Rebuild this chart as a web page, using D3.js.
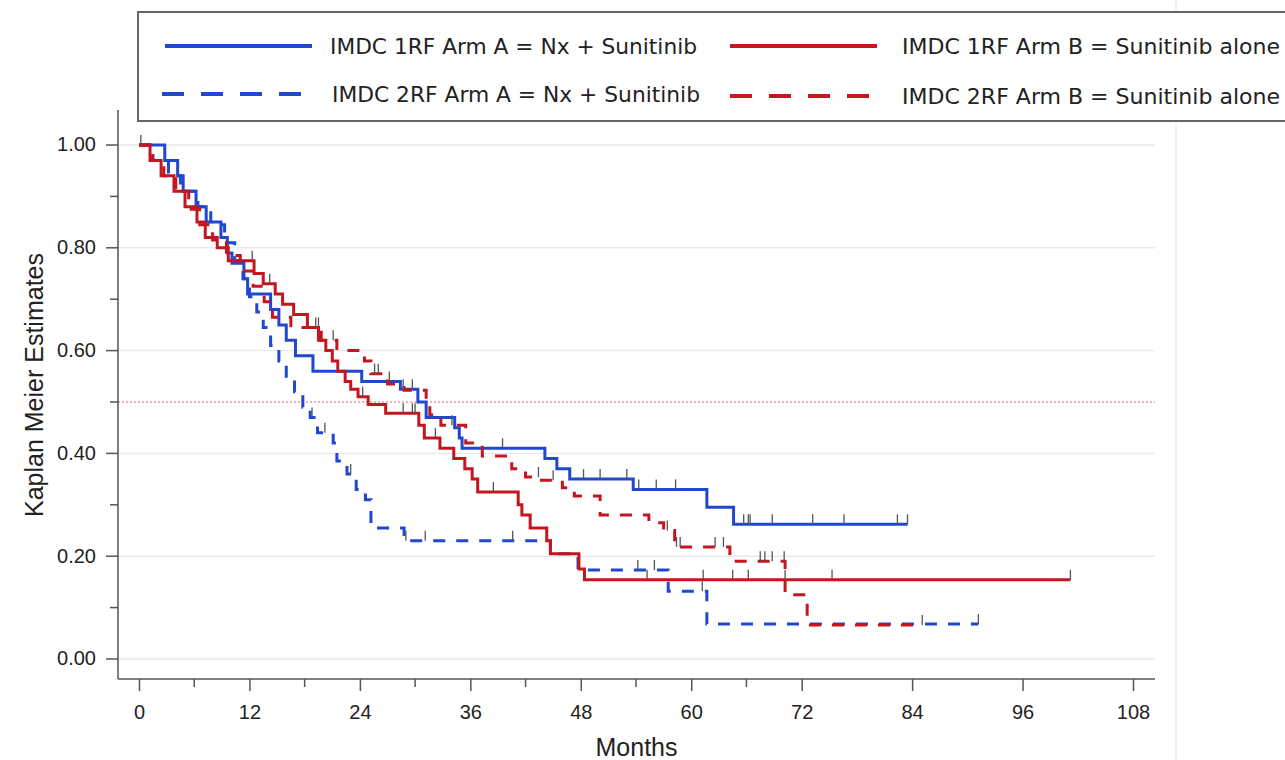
<!DOCTYPE html>
<html>
<head>
<meta charset="utf-8">
<script src="https://cdn.jsdelivr.net/npm/d3@7"></script>
<style>
  body { margin: 0; background: #fff; }
  svg { display: block; }
</style>
</head>
<body>
<svg id="chart"></svg>
<script>
// step points [month, survival] for each arm / risk group
const rf1ArmA = [[0,1],[2.8,0.97],[4.2,0.94],[4.8,0.91],[6.2,0.88],[7.3,0.85],[8.9,0.82],[9.6,0.79],[10.1,0.77],[11.4,0.74],[11.8,0.71],[14.3,0.68],[15.2,0.65],[16.0,0.62],[17.0,0.59],[18.9,0.56],[24.2,0.54],[28.4,0.525],[30.3,0.50],[31.2,0.47],[34.3,0.45],[34.8,0.43],[35.1,0.41],[44.1,0.39],[45.4,0.37],[46.8,0.35],[53.7,0.33],[61.7,0.295],[64.6,0.262]];
const rf1ArmAEnd = 83.5;
const rf1ArmACens = [0.2, 27.2, 28.7, 29.7, 39.5, 48.3, 50.1, 53.0, 54.3, 56.2, 58.3, 65.7, 66.2, 66.4, 68.8, 73.2, 76.6, 82.4, 83.5];

const rf2ArmA = [[0,1],[1.5,0.97],[3.2,0.94],[4.5,0.91],[6.4,0.88],[7.8,0.845],[9.3,0.81],[10.4,0.775],[11.3,0.74],[12.0,0.705],[12.8,0.675],[13.5,0.645],[14.3,0.61],[15.2,0.58],[16.0,0.55],[16.9,0.52],[17.8,0.49],[18.6,0.47],[19.4,0.44],[21.1,0.42],[21.5,0.385],[22.6,0.36],[23.6,0.33],[24.6,0.31],[25.2,0.255],[28.8,0.23],[44.7,0.205],[47.7,0.173],[57.5,0.132],[61.7,0.068]];
const rf2ArmAEnd = 91.2;
const rf2ArmACens = [18.8, 20.2, 23.0, 29.0, 31.1, 40.6, 54.2, 56.0, 61.2, 91.2];

const rf1ArmB = [[0,1],[1.2,0.97],[2.4,0.94],[3.8,0.91],[5.0,0.88],[6.3,0.85],[7.2,0.82],[8.5,0.80],[9.7,0.775],[12.5,0.75],[13.5,0.73],[14.8,0.71],[15.6,0.69],[16.8,0.67],[18.3,0.645],[19.5,0.62],[20.3,0.60],[21.0,0.58],[21.6,0.56],[22.4,0.54],[23.0,0.525],[23.8,0.51],[24.9,0.495],[26.8,0.478],[30.4,0.455],[31.0,0.43],[32.7,0.41],[34.2,0.39],[35.4,0.37],[36.2,0.35],[36.8,0.325],[41.2,0.30],[41.6,0.28],[42.5,0.255],[44.3,0.23],[44.7,0.205],[47.8,0.175],[48.4,0.154]];
const rf1ArmBEnd = 101.2;
const rf1ArmBCens = [12.3, 14.2, 24.3, 28.7, 29.7, 30.0, 32.2, 38.5, 55.2, 61.3, 64.5, 66.2, 70.2, 75.3, 101.2];

const rf2ArmB = [[0,1],[1.5,0.97],[2.7,0.94],[4.0,0.91],[5.4,0.875],[6.6,0.845],[8.0,0.815],[9.5,0.785],[11.0,0.755],[12.4,0.725],[13.6,0.695],[14.5,0.665],[16.5,0.645],[19.8,0.62],[21.5,0.60],[24.5,0.58],[25.2,0.555],[27.0,0.535],[28.8,0.523],[31.2,0.50],[31.6,0.475],[32.8,0.455],[35.5,0.42],[37.3,0.395],[40.5,0.37],[42.0,0.354],[43.5,0.348],[46.0,0.333],[47.3,0.317],[50.1,0.28],[55.4,0.265],[57.0,0.25],[58.2,0.218],[64.2,0.19],[70.2,0.125],[72.6,0.066]];
const rf2ArmBEnd = 85.1;
const rf2ArmBCens = [19.2, 19.5, 21.1, 25.6, 26.0, 34.0, 43.4, 45.0, 57.4, 58.4, 58.8, 62.6, 63.5, 67.5, 68.0, 68.8, 70.1, 85.1];

const xTicks = [0, 12, 24, 36, 48, 60, 72, 84, 96, 108];
const xMinorTicks = [6, 18, 30, 42, 54, 66];
const yTicks = [0, 0.2, 0.4, 0.6, 0.8, 1.0];
const yMinorTicks = [0.1, 0.3, 0.5, 0.7, 0.9];
const legendLabels = ['IMDC 1RF Arm A = Nx + Sunitinib', 'IMDC 1RF Arm B = Sunitinib alone',
                      'IMDC 2RF Arm A = Nx + Sunitinib', 'IMDC 2RF Arm B = Sunitinib alone'];

const width = 1285;
const height = 760;
const blue = '#1f47cf';
const red = '#c4161f';

const svg = d3.select('#chart').attr('width', width).attr('height', height);

const x = d3.scaleLinear().domain([0, 108]).range([139, 1133]);
const y = d3.scaleLinear().domain([0, 1]).range([659, 145]);

const axisLeft = 118;
const axisBottom = 679;
const plotRight = 1155;

// faint image edge at the right
svg.append('line')
    .attr('x1', 1176).attr('x2', 1176).attr('y1', 0).attr('y2', height)
    .attr('stroke', '#ececec').attr('stroke-width', 1.5);

// grid
svg.selectAll('.grid')
    .data(yTicks)
    .enter()
    .append('line')
    .attr('class', 'grid')
    .attr('x1', axisLeft).attr('x2', plotRight)
    .attr('y1', d => y(d)).attr('y2', d => y(d))
    .attr('stroke', '#e9e9e9').attr('stroke-width', 1.5);

// median reference line
svg.append('line')
    .attr('x1', axisLeft).attr('x2', plotRight)
    .attr('y1', y(0.5)).attr('y2', y(0.5))
    .attr('stroke', '#e0606a').attr('stroke-width', 1)
    .attr('stroke-dasharray', '2,2');

// axes
const xAxis = d3.axisBottom(x).tickValues(xTicks).tickSize(12).tickPadding(14);
const gx = svg.append('g').attr('transform', `translate(0,${axisBottom})`).call(xAxis);
gx.select('.domain').attr('d', `M${axisLeft},0H${plotRight}`);
gx.selectAll('.domain, .tick line').attr('stroke', '#555').attr('stroke-width', 1.5);
gx.selectAll('text').attr('font-family', 'Liberation Sans, Arial, sans-serif').attr('font-size', 20).attr('fill', '#222');

gx.selectAll('.minor')
    .data(xMinorTicks)
    .enter()
    .append('line')
    .attr('class', 'minor')
    .attr('x1', d => x(d)).attr('x2', d => x(d))
    .attr('y1', 0).attr('y2', 8)
    .attr('stroke', '#555').attr('stroke-width', 1.5);

const yAxis = d3.axisLeft(y).tickValues(yTicks).tickFormat(d3.format('.2f')).tickSize(12).tickPadding(10);
const gy = svg.append('g').attr('transform', `translate(${axisLeft},0)`).call(yAxis);
gy.selectAll('.tick').attr('transform', d => `translate(0,${y(d)})`);
gy.select('.domain').attr('d', `M0,110V${axisBottom - 0}`);
gy.selectAll('.domain, .tick line').attr('stroke', '#555').attr('stroke-width', 1.5);
gy.selectAll('text').attr('font-family', 'Liberation Sans, Arial, sans-serif').attr('font-size', 20).attr('fill', '#222');

gy.selectAll('.minor')
    .data(yMinorTicks)
    .enter()
    .append('line')
    .attr('class', 'minor')
    .attr('x1', -8).attr('x2', 0)
    .attr('y1', d => y(d)).attr('y2', d => y(d))
    .attr('stroke', '#555').attr('stroke-width', 1.5);

// axis titles
svg.append('text')
    .attr('x', (axisLeft + plotRight) / 2 + 0).attr('y', 756)
    .attr('text-anchor', 'middle')
    .attr('font-family', 'Liberation Sans, Arial, sans-serif')
    .attr('font-size', 25).attr('fill', '#222')
    .text('Months');

svg.append('text')
    .attr('transform', `translate(43,385) rotate(-90)`)
    .attr('text-anchor', 'middle')
    .attr('font-family', 'Liberation Sans, Arial, sans-serif')
    .attr('font-size', 25).attr('fill', '#222')
    .text('Kaplan Meier Estimates');

// curves
const stepLine = d3.line()
    .x(d => x(d[0]))
    .y(d => y(d[1]))
    .curve(d3.curveStepAfter);

const survivalAt = (pts, t) => {
    let s = 1;
    pts.forEach(p => { if (p[0] <= t) s = p[1]; });
    return s;
};

const series = [
    { pts: rf2ArmA, end: rf2ArmAEnd, cens: rf2ArmACens, color: blue, dash: '12,11' },
    { pts: rf1ArmA, end: rf1ArmAEnd, cens: rf1ArmACens, color: blue, dash: null },
    { pts: rf1ArmB, end: rf1ArmBEnd, cens: rf1ArmBCens, color: red, dash: null },
    { pts: rf2ArmB, end: rf2ArmBEnd, cens: rf2ArmBCens, color: red, dash: '12,11' }
];

series.forEach(s => {
    const full = s.pts.concat([[s.end, s.pts[s.pts.length - 1][1]]]);
    svg.append('path')
        .attr('d', stepLine(full))
        .attr('fill', 'none')
        .attr('stroke', s.color)
        .attr('stroke-width', 3)
        .attr('stroke-dasharray', s.dash);
});

series.forEach(s => {
    svg.selectAll(null)
        .data(s.cens)
        .enter()
        .append('line')
        .attr('x1', d => x(d)).attr('x2', d => x(d))
        .attr('y1', d => y(survivalAt(s.pts, d)))
        .attr('y2', d => y(survivalAt(s.pts, d)) - 10)
        .attr('stroke', '#555').attr('stroke-width', 1.3);
});

// legend
const legend = svg.append('g');
legend.append('rect')
    .attr('x', 138).attr('y', 12).attr('width', 1160).attr('height', 109)
    .attr('fill', '#fff').attr('stroke', '#666').attr('stroke-width', 2);

const legendItems = [
    { lx: 165, ly: 46, tx: 330, ty: 54, color: blue, dash: null, label: legendLabels[0], len: 367 },
    { lx: 730, ly: 46, tx: 902, ty: 54, color: red, dash: null, label: legendLabels[1], len: 378 },
    { lx: 162, ly: 94, tx: 332, ty: 102, color: blue, dash: '22,17', label: legendLabels[2], len: 368 },
    { lx: 730, ly: 96, tx: 902, ty: 104, color: red, dash: '22,17', label: legendLabels[3], len: 378 }
];

legend.selectAll('line.key')
    .data(legendItems)
    .enter()
    .append('line')
    .attr('class', 'key')
    .attr('x1', d => d.lx).attr('x2', d => d.lx + 147)
    .attr('y1', d => d.ly).attr('y2', d => d.ly)
    .attr('stroke', d => d.color).attr('stroke-width', 4)
    .attr('stroke-dasharray', d => d.dash);

legend.selectAll('text.label')
    .data(legendItems)
    .enter()
    .append('text')
    .attr('class', 'label')
    .attr('x', d => d.tx).attr('y', d => d.ty)
    .attr('font-family', 'DejaVu Sans Condensed, DejaVu Sans, sans-serif')
    .attr('font-stretch', 'condensed')
    .attr('font-size', 21).attr('fill', '#222')
    .attr('textLength', d => d.len)
    .attr('lengthAdjust', 'spacingAndGlyphs')
    .text(d => d.label);
</script>
</body>
</html>
